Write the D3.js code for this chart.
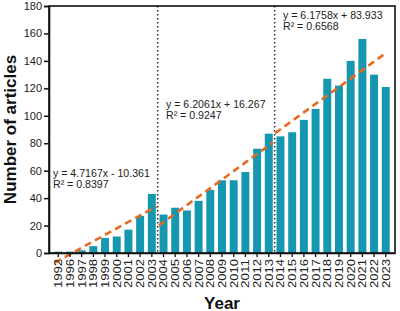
<!DOCTYPE html>
<html><head><meta charset="utf-8">
<script src="https://cdn.jsdelivr.net/npm/d3@7"></script>
<style>body{margin:0;background:#fff}svg{display:block}text{font-family:"Liberation Sans",Arial,sans-serif}</style>
</head><body><svg id="c" width="400" height="311"></svg>
<script>
const years = ["1992","1996","1997","1998","1999","2000","2001","2002","2003","2004","2005","2006","2007","2008","2009","2010","2011","2012","2013","2014","2015","2016","2017","2018","2019","2020","2021","2022","2023"];
const articles = [1,1,2,5,11,12,17,27,43,28,33,31,38,46,53,53,59,76,87,85,88,97,105,127,122,140,156,130,121];
const yTicks = [0,20,40,60,80,100,120,140,160,180];
const trendSlopes = [4.7167, 6.2061, 6.1758];
const trendIntercepts = [-10.361, 16.267, 83.933];
const trendStart = ["1992","2004","2014"];
const trendEnd = ["2003","2013","2023"];
const trendLabels = ["y = 4.7167x - 10.361","y = 6.2061x + 16.267","y = 6.1758x + 83.933"];
const r2Labels = ["R² = 0.8397","R² = 0.9247","R² = 0.6568"];
const dividers = [["2003","2004"],["2013","2014"]];

const svg = d3.select("#c");
const L=49,R=395,T=6,B=253;
const x = d3.scaleBand().domain(years).range([L,R]).paddingInner(0.32).paddingOuter(0.45);
const y = d3.scaleLinear().domain([0,180]).range([B,T]);
const cx = d => x(d)+x.bandwidth()/2;

// bars
svg.append("g").selectAll("rect").data(years).join("rect")
  .attr("x",d=>x(d)).attr("width",x.bandwidth())
  .attr("y",(d,i)=>y(articles[i])).attr("height",(d,i)=>B-y(articles[i]))
  .attr("fill","#1597b0");

// dotted dividers
dividers.forEach(([a,b])=>{
  const xv=(cx(a)+cx(b))/2;
  svg.append("line").attr("x1",xv).attr("x2",xv).attr("y1",T).attr("y2",B)
    .attr("stroke","#222").attr("stroke-width",1.5).attr("stroke-dasharray","1.4,2.6");
});

// trend lines
const step = x.step();
const ext = [[0.7,9.4],[0.6,10.35],[0.55,10.05]];
trendSlopes.forEach((m,k)=>{
  const i0 = years.indexOf(trendStart[k]);
  const [a,b] = ext[k];
  const px = t => cx(years[i0]) + (t-1)*step;
  svg.append("line")
    .attr("x1",px(a)).attr("y1",y(m*a+trendIntercepts[k]))
    .attr("x2",px(b)).attr("y2",y(m*b+trendIntercepts[k]))
    .attr("stroke","#e8691f").attr("stroke-width",2.6).attr("stroke-dasharray","7,4.5");
});

// frame
svg.append("rect").attr("x",L).attr("y",T).attr("width",R-L).attr("height",B-T)
  .attr("fill","none").attr("stroke","#111").attr("stroke-width",1.6);

// y axis
const ya = svg.append("g").attr("transform",`translate(${L},0)`)
  .call(d3.axisLeft(y).tickValues(yTicks).tickSize(5).tickPadding(2));
ya.select(".domain").attr("stroke","#111").attr("stroke-width",1.6);
ya.selectAll(".tick line").attr("stroke","#111").attr("stroke-width",1.5);
ya.selectAll(".tick text").attr("font-size",11).attr("fill","#222").attr("font-family","Liberation Sans, Arial, sans-serif");

// x axis
const xa = svg.append("g").attr("transform",`translate(0,${B})`)
  .call(d3.axisBottom(x).tickSize(4).tickSizeOuter(0));
xa.select(".domain").attr("stroke","#111").attr("stroke-width",1.6);
xa.selectAll(".tick line").attr("stroke","#111").attr("stroke-width",1.3);
xa.selectAll(".tick text").attr("font-size",11).attr("fill","#222")
  .attr("font-family","Liberation Sans, Arial, sans-serif")
  .attr("transform","rotate(-90)").attr("text-anchor","end")
  .attr("x",-6).attr("y",0).attr("dy","0.36em")
  .attr("textLength",29).attr("lengthAdjust","spacingAndGlyphs");

// annotations
const annPos = [[53,176.5],[166,108],[283,19]];
trendLabels.forEach((t,k)=>{
  svg.append("text").attr("x",annPos[k][0]).attr("y",annPos[k][1]).attr("font-size",10.6).attr("fill","#222").text(t);
  svg.append("text").attr("x",annPos[k][0]).attr("y",annPos[k][1]+11.3).attr("font-size",10.6).attr("fill","#222").text(r2Labels[k]);
});

// axis titles
svg.append("text").attr("x",(L+R)/2).attr("y",308.5).attr("text-anchor","middle")
  .attr("font-size",17).attr("font-weight","bold").attr("fill","#111").text("Year");
svg.append("text").attr("transform",`translate(15.5,${(T+B)/2}) rotate(-90)`).attr("text-anchor","middle")
  .attr("font-size",17).attr("font-weight","bold").attr("fill","#111").text("Number of articles");
</script></body></html>
